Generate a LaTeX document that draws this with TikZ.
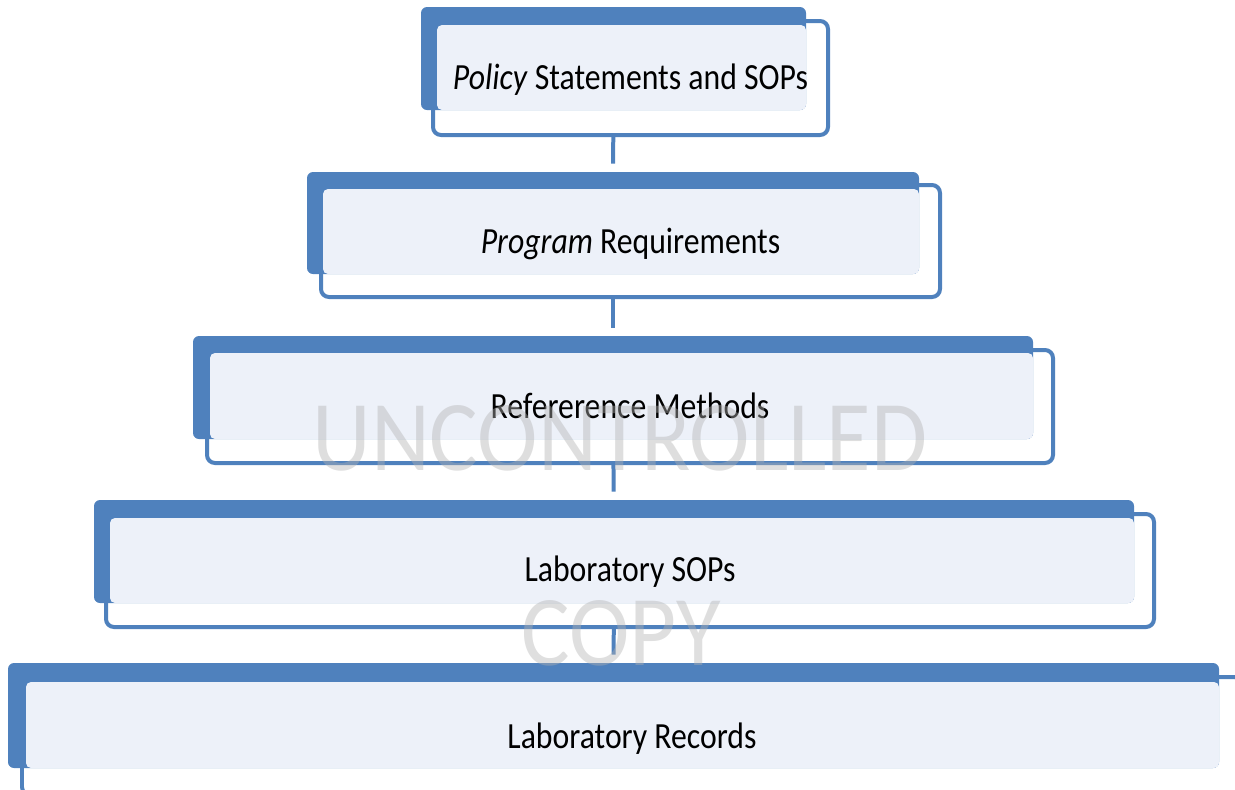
\documentclass[tikz,border=0pt]{standalone}
\usepackage{xcolor}
\usepackage{fontspec}
\setmainfont{Carlito}[FakeStretch=0.86]
\newfontfamily\markfont{Carlito}[FakeStretch=0.91]
\usepackage{tikz}
\usetikzlibrary{fit, backgrounds}

\definecolor{tierblue}{HTML}{4F81BD}
\definecolor{tierfill}{HTML}{EDF1F9}

\begin{document}
\begin{tikzpicture}[
    x=0.02cm, y=-0.02cm,
    framebox/.style={rectangle, draw=tierblue, line width=0.08cm, fill=white, rounded corners=0.16cm, inner sep=0pt},
    backbox/.style={rectangle, fill=tierblue, rounded corners=0.12cm, inner sep=0pt},
    fillbox/.style={rectangle, fill=tierfill, rounded corners=0.1cm, inner sep=0pt},
    tiertext/.style={anchor=base, inner sep=0pt, font=\fontsize{21}{25}\selectfont},
    link/.style={draw=tierblue, line width=0.08cm, shorten >=0.16cm},
    watermark/.style={anchor=base, inner sep=0pt, text=black!30, text opacity=0.42, font=\markfont\fontsize{57}{60}\selectfont}
]
\useasboundingbox (0,0) rectangle (1235,789);
\clip (0,0) rectangle (1235,789);

% Policy level
\node[framebox, fit={(433,21) (828,135)}] (pol-frame) {};
\node[backbox, fit={(421,7) (806,110)}] (pol-back) {};
\node[fillbox, fit={(437,25) (806,110)}] (pol-fill) {};
\node[tiertext] (pol) at ([yshift=-0.22cm]pol-frame.center) {\textit{Policy} Statements and SOPs};

% Program level
\node[framebox, fit={(321,185) (940,297)}] (prog-frame) {};
\node[backbox, fit={(307,172) (919,274)}] (prog-back) {};
\node[fillbox, fit={(323,189) (919,274)}] (prog-fill) {};
\node[tiertext] (prog) at ([yshift=-0.24cm]prog-frame.center) {\textit{Program} Requirements};

% Reference methods level
\node[framebox, fit={(207,350) (1053,463)}] (refm-frame) {};
\node[backbox, fit={(193,336) (1033,439)}] (refm-back) {};
\node[fillbox, fit={(210,353) (1033,439)}] (refm-fill) {};
\node[tiertext] (refm) at ([yshift=-0.23cm]refm-frame.center) {Refererence Methods};

% Laboratory SOPs level
\node[framebox, fit={(106,514) (1154,627)}] (labsop-frame) {};
\node[backbox, fit={(94,500) (1134,603)}] (labsop-back) {};
\node[fillbox, fit={(110,518) (1134,603)}] (labsop-fill) {};
\node[tiertext] (labsop) at ([yshift=-0.21cm]labsop-frame.center) {Laboratory SOPs};

% Laboratory records level
\node[framebox, fit={(22,677) (1242,795)}] (labrec-frame) {};
\node[backbox, fit={(8,663) (1219,768)}] (labrec-back) {};
\node[fillbox, fit={(26,682) (1219,768)}] (labrec-fill) {};
\node[tiertext] (labrec) at ([yshift=-0.24cm]labrec-frame.center) {Laboratory Records};

% Connectors
\begin{pgfonlayer}{background}
\draw[link] (pol-back) -- (prog-back);
\draw[link] (prog-back) -- (refm-back);
\draw[link] (refm-back) -- (labsop-back);
\draw[link] (labsop-back) -- (labrec-back);
\end{pgfonlayer}

% Watermark
\node[watermark] (wm-top) at (620,470) {UNCONTROLLED};
\node[watermark] (wm-bot) at (621,665) {COPY};

\end{tikzpicture}
\end{document}
